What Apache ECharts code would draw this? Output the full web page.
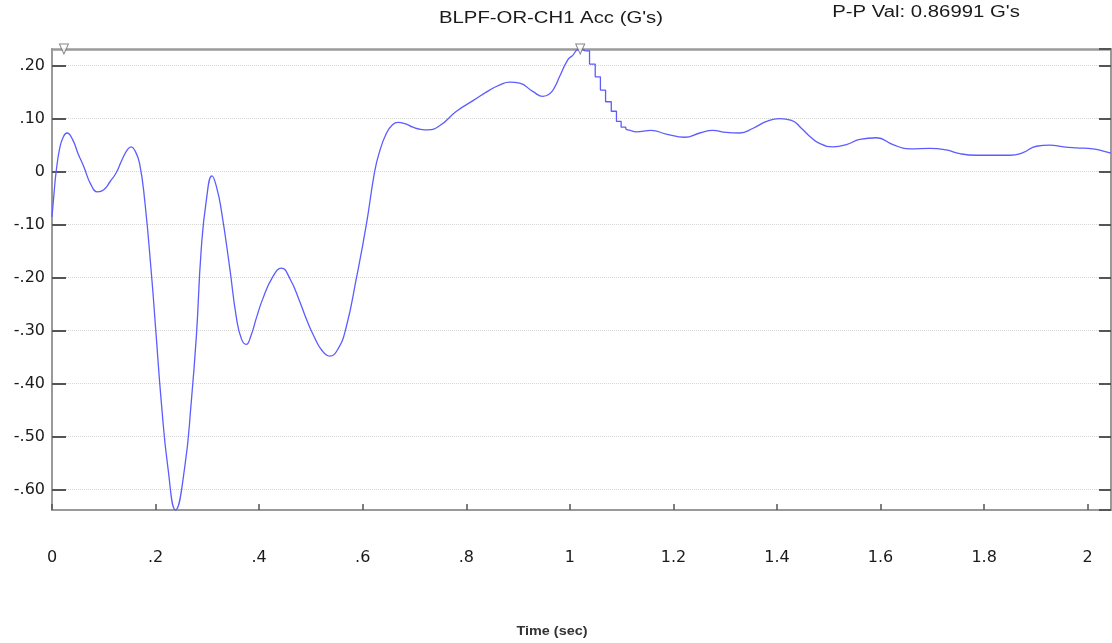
<!DOCTYPE html>
<html>
<head>
<meta charset="utf-8">
<title>BLPF-OR-CH1 Acc</title>
<script src="https://cdn.jsdelivr.net/npm/echarts@6/dist/echarts.min.js"></script>
<style>
  html, body { margin: 0; padding: 0; background: #ffffff; }
  #chart { width: 1112px; height: 643px; }
</style>
</head>
<body>
<div id="chart"></div>
<script>
// Axis extents (seconds, G's)
const timeRange = [0, 2.045];
const accRange = [-0.6384, 0.2315];

// Tick labels as printed on each axis
const xTickValues = [0, 0.2, 0.4, 0.6, 0.8, 1, 1.2, 1.4, 1.6, 1.8, 2];
const xTickLabels = ['0', '.2', '.4', '.6', '.8', '1', '1.2', '1.4', '1.6', '1.8', '2'];
const yTickValues = [-0.6, -0.5, -0.4, -0.3, -0.2, -0.1, 0, 0.1, 0.2];
const yTickLabels = ['-.60', '-.50', '-.40', '-.30', '-.20', '-.10', '0', '.10', '.20'];

// Acceleration trace [time (sec), acc (G's)] : oscillating onset up to the peak
const ringUp = [
  [0.000, -0.085], [0.004, -0.040], [0.008, 0.000], [0.015, 0.045], [0.022, 0.066],
  [0.029, 0.073], [0.040, 0.060], [0.050, 0.035], [0.062, 0.008], [0.075, -0.024],
  [0.088, -0.038], [0.100, -0.034], [0.112, -0.019], [0.124, -0.002], [0.135, 0.022],
  [0.146, 0.042], [0.153, 0.047], [0.160, 0.040], [0.169, 0.016], [0.179, -0.054],
  [0.192, -0.193], [0.201, -0.307], [0.211, -0.434], [0.224, -0.560], [0.2386, -0.6384],
  [0.256, -0.560], [0.269, -0.434], [0.279, -0.307], [0.288, -0.149], [0.298, -0.054],
  [0.309, -0.008], [0.318, -0.030], [0.327, -0.073], [0.343, -0.180], [0.356, -0.275],
  [0.366, -0.316], [0.375, -0.326], [0.384, -0.310], [0.395, -0.275], [0.407, -0.240],
  [0.426, -0.199], [0.443, -0.182], [0.460, -0.203], [0.478, -0.244], [0.492, -0.280],
  [0.506, -0.311], [0.521, -0.337], [0.536, -0.348], [0.552, -0.335], [0.568, -0.294],
  [0.588, -0.200], [0.607, -0.100], [0.623, 0.000], [0.632, 0.036], [0.646, 0.073],
  [0.658, 0.089], [0.668, 0.093], [0.683, 0.090], [0.697, 0.084], [0.712, 0.080],
  [0.726, 0.079], [0.749, 0.087], [0.781, 0.114], [0.813, 0.134], [0.845, 0.154],
  [0.865, 0.164], [0.884, 0.169], [0.903, 0.167], [0.929, 0.151], [0.948, 0.142],
  [0.961, 0.147], [0.971, 0.160], [0.980, 0.179], [0.996, 0.211], [1.006, 0.220],
  [1.013, 0.229], [1.020, 0.2315], [1.030, 0.228]
];

// Quantised drop right after the peak (held sample values)
const stepDecay = [
  [1.030, 0.228], [1.038, 0.203], [1.049, 0.179], [1.059, 0.154], [1.069, 0.132],
  [1.080, 0.114], [1.090, 0.095], [1.099, 0.084], [1.108, 0.080]
];

// Settling tail
const tail = [
  [1.108, 0.080], [1.116, 0.078], [1.128, 0.075], [1.157, 0.078], [1.186, 0.071],
  [1.222, 0.065], [1.251, 0.073], [1.276, 0.078], [1.302, 0.074], [1.328, 0.073],
  [1.354, 0.082], [1.380, 0.095], [1.405, 0.100], [1.428, 0.097], [1.447, 0.082],
  [1.463, 0.067], [1.483, 0.053], [1.508, 0.047], [1.534, 0.051], [1.560, 0.061],
  [1.592, 0.064], [1.624, 0.051], [1.656, 0.043], [1.695, 0.044], [1.727, 0.041],
  [1.753, 0.034], [1.785, 0.031], [1.817, 0.031], [1.850, 0.031], [1.875, 0.036],
  [1.901, 0.048], [1.927, 0.050], [1.953, 0.047], [1.978, 0.045], [2.010, 0.043],
  [2.030, 0.039], [2.045, 0.035]
];

// Cursor marks along the top edge
const cursors = [[0.023, 0.2315], [1.020, 0.2315]];

const titleText = "BLPF-OR-CH1 Acc (G's)";
const peakText = "P-P Val: 0.86991 G's";
const xName = 'Time (sec)';

const TRACE = '#5c5cff';
const FRAME = '#9a9a9a';
const TICK = '#555555';
const LABEL_FONT = 'DejaVu Sans';

function lookup(values, labels, v) {
  for (let i = 0; i < values.length; i++) {
    if (Math.abs(values[i] - v) < 1e-6) return labels[i];
  }
  return '';
}

const chart = echarts.init(document.getElementById('chart'), null, { renderer: 'canvas' });

chart.setOption({
  animation: false,
  backgroundColor: '#ffffff',
  grid: { left: 52, right: 1, top: 49, bottom: 133, containLabel: false, outerBoundsMode: 'none' },
  graphic: [
    {
      type: 'text', x: 551, y: 19, scaleX: 1.27, z: 10,
      style: { text: titleText, font: '16px "Liberation Sans"', fill: '#1a1a1a', align: 'center', verticalAlign: 'middle' }
    },
    {
      type: 'text', x: 926, y: 13, scaleX: 1.27, z: 10,
      style: { text: peakText, font: '16px "Liberation Sans"', fill: '#1a1a1a', align: 'center', verticalAlign: 'middle' }
    },
    {
      type: 'text', x: 552, y: 632, scaleX: 1.2, z: 10,
      style: { text: xName, font: 'bold 12px "Liberation Sans"', fill: '#333333', align: 'center', verticalAlign: 'middle' }
    }
  ],
  xAxis: [
    {
      type: 'value', position: 'bottom',
      min: timeRange[0], max: timeRange[1], splitNumber: 10,
      axisLine: { show: true, onZero: false, lineStyle: { color: FRAME, width: 2 } },
      axisTick: { show: true, inside: true, length: 6, lineStyle: { color: TICK, width: 1.5 } },
      axisLabel: {
        show: true, margin: 40, color: '#1a1a1a', fontFamily: LABEL_FONT, fontSize: 16,
        showMinLabel: true, showMaxLabel: false,
        formatter: v => lookup(xTickValues, xTickLabels, v)
      },
      splitLine: { show: false }
    },
    {
      type: 'value', position: 'top',
      min: timeRange[0], max: timeRange[1], splitNumber: 10,
      axisLine: { show: true, onZero: false, lineStyle: { color: FRAME, width: 2.5 } },
      axisTick: { show: false }, axisLabel: { show: false }, splitLine: { show: false }
    }
  ],
  yAxis: [
    {
      type: 'value', position: 'left',
      min: accRange[0], max: accRange[1], splitNumber: 9,
      axisLine: { show: true, onZero: false, lineStyle: { color: FRAME, width: 2 } },
      axisTick: { show: true, inside: true, length: 14, lineStyle: { color: TICK, width: 2 } },
      axisLabel: {
        show: true, margin: 7, color: '#1a1a1a', fontFamily: LABEL_FONT, fontSize: 16,
        showMinLabel: false, showMaxLabel: false,
        formatter: v => lookup(yTickValues, yTickLabels, v)
      },
      splitLine: { show: true, lineStyle: { color: '#d6d6d6', type: 'dotted', width: 1 } }
    },
    {
      type: 'value', position: 'right',
      min: accRange[0], max: accRange[1], splitNumber: 9,
      axisLine: { show: true, onZero: false, lineStyle: { color: FRAME, width: 2 } },
      axisTick: { show: true, inside: true, length: 12, lineStyle: { color: TICK, width: 2 } },
      axisLabel: { show: false }, splitLine: { show: false }
    }
  ],
  series: [
    {
      type: 'line', data: ringUp, smooth: 0.5, showSymbol: false,
      lineStyle: { color: TRACE, width: 1.3 }, z: 3
    },
    {
      type: 'line', data: stepDecay, step: 'end', showSymbol: false,
      lineStyle: { color: TRACE, width: 1.3 }, z: 3
    },
    {
      type: 'line', data: tail, smooth: 0.5, showSymbol: false,
      lineStyle: { color: TRACE, width: 1.3 }, z: 3
    },
    {
      type: 'scatter', data: cursors, clip: false,
      symbol: 'triangle', symbolRotate: 180, symbolSize: [9, 10],
      itemStyle: { color: '#ffffff', borderColor: '#666666', borderWidth: 1 },
      z: 5
    }
  ]
});
</script>
</body>
</html>
